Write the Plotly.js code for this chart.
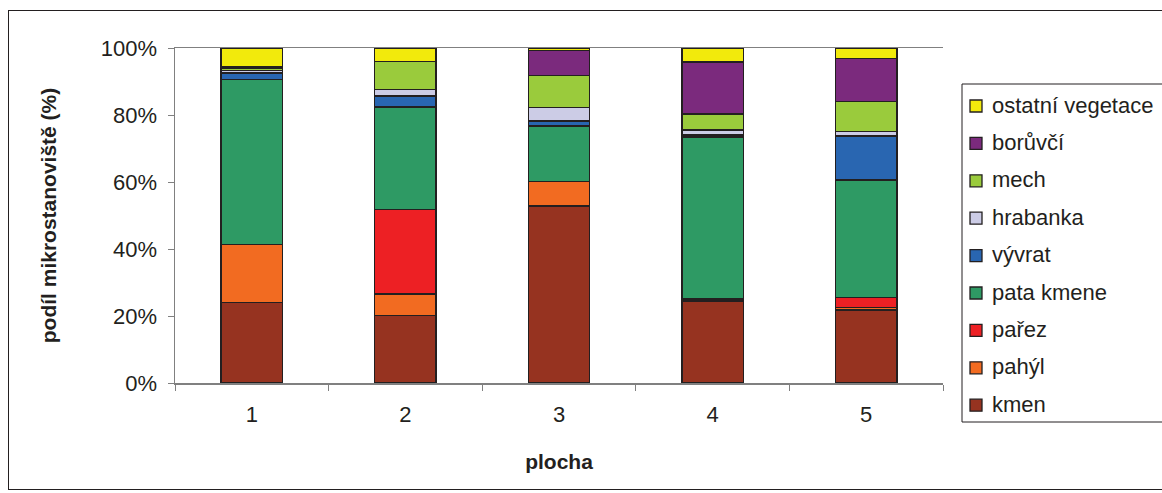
<!DOCTYPE html>
<html>
<head>
<meta charset="utf-8">
<script src="https://cdn.plot.ly/plotly-3.0.1.min.js"></script>
<style>
  html, body { margin: 0; padding: 0; background: #fff; }
  #wrap { position: relative; width: 1162px; height: 493px; }
  #chart { width: 1162px; height: 493px; }
  #frame { position: absolute; left: 8px; top: 10px; width: 1160px; height: 480px;
           border: 1px solid #231f20; pointer-events: none; box-sizing: border-box; }
</style>
</head>
<body>
<div id="wrap">
  <div id="chart"></div>
  <div id="frame"></div>
</div>
<script>
// Plots (x axis categories)
const plochy = ['1', '2', '3', '4', '5'];

// Share of each microhabitat per plot (%), bottom to top of the stack
const kmen       = [24.0, 20.1, 52.8, 24.5, 21.8];
const pahyl      = [17.3,  6.5,  7.3,  0.6,  0.7];
const parez      = [ 0.0, 25.2,  0.0,  0.0,  3.0];
const pataKmene  = [49.4, 30.6, 16.6, 48.3, 35.1];
const vyvrat     = [ 1.8,  3.3,  1.5,  0.6, 13.1];
const hrabanka   = [ 0.7,  2.0,  4.1,  1.5,  1.3];
const mech       = [ 0.8,  8.2,  9.4,  4.8,  9.0];
const boruvci    = [ 0.3,  0.0,  7.5, 15.5, 12.9];
const ostatni    = [ 5.7,  4.1,  0.8,  4.2,  3.1];

const yTicks = [0, 20, 40, 60, 80, 100];
const yTickText = ['0%', '20%', '40%', '60%', '80%', '100%'];

const series = [
  { name: 'kmen',              y: kmen,      color: '#963320' },
  { name: 'pahýl',             y: pahyl,     color: '#f26b21' },
  { name: 'pařez',             y: parez,     color: '#ed2024' },
  { name: 'pata kmene',        y: pataKmene, color: '#2e9a64' },
  { name: 'vývrat',            y: vyvrat,    color: '#2966b1' },
  { name: 'hrabanka',          y: hrabanka,  color: '#cccce6' },
  { name: 'mech',              y: mech,      color: '#9acb3c' },
  { name: 'borůvčí',           y: boruvci,   color: '#7b2a7d' },
  { name: 'ostatní vegetace',  y: ostatni,   color: '#f2ea0c' }
];

const FONT = '"Liberation Sans", Arial, sans-serif';
const INK = '#231f20';

// Figure geometry (pixels)
const W = 1162, H = 493;
const M = { l: 175, r: 219, t: 48, b: 110 };
const plotW = W - M.l - M.r;
const plotH = H - M.t - M.b;
const px2x = px => (px - M.l) / plotW;          // pixel -> paper x
const py2y = py => (H - M.b - py) / plotH;      // pixel -> paper y

const traces = series.map(s => ({
  type: 'bar',
  name: s.name,
  x: plochy,
  y: s.y,
  marker: { color: s.color, line: { color: INK, width: 1.3 } },
  hoverinfo: 'name+y',
  showlegend: false
}));

// Boxed key to the right of the plot, top of the stack listed first
const legendBox = { left: 962, top: 84, right: 1175, bottom: 422 };
const rowFirst = 106, rowStep = 37.4, swatch = 12;
const shapes = [{
  type: 'rect', xref: 'paper', yref: 'paper',
  x0: px2x(legendBox.left), x1: px2x(legendBox.right),
  y0: py2y(legendBox.bottom), y1: py2y(legendBox.top),
  line: { color: INK, width: 1 }, fillcolor: 'rgba(0,0,0,0)', layer: 'above'
}];
const annotations = [];
series.slice().reverse().forEach((s, k) => {
  const cy = rowFirst + k * rowStep;
  shapes.push({
    type: 'rect', xref: 'paper', yref: 'paper',
    x0: px2x(970), x1: px2x(970 + swatch),
    y0: py2y(cy + swatch / 2), y1: py2y(cy - swatch / 2),
    line: { color: INK, width: 1.3 }, fillcolor: s.color, layer: 'above'
  });
  annotations.push({
    xref: 'paper', yref: 'paper',
    x: px2x(990), y: py2y(cy - 1),
    xanchor: 'left', yanchor: 'middle',
    text: s.name, showarrow: false,
    font: { family: FONT, size: 22, color: INK }
  });
});

const layout = {
  width: W,
  height: H,
  margin: M,
  paper_bgcolor: '#ffffff',
  plot_bgcolor: '#ffffff',
  barmode: 'stack',
  bargap: 0.6,
  showlegend: false,
  font: { family: FONT, color: INK, size: 22 },
  xaxis: {
    type: 'category',
    showline: true,
    linecolor: '#808080',
    linewidth: 1.5,
    mirror: true,
    ticks: 'outside',
    tickson: 'boundaries',
    ticklen: 6,
    tickcolor: '#808080',
    ticklabelstandoff: 11,
    tickfont: { family: FONT, size: 22, color: INK },
    showgrid: false,
    zeroline: false,
    title: { text: '<b>plocha</b>', font: { family: FONT, size: 21, color: INK }, standoff: 28 }
  },
  yaxis: {
    range: [0, 100],
    tickvals: yTicks,
    ticktext: yTickText,
    showline: true,
    linecolor: '#808080',
    linewidth: 1.5,
    ticks: 'outside',
    ticklen: 6,
    tickcolor: '#808080',
    ticklabelstandoff: 6,
    tickfont: { family: FONT, size: 22, color: INK },
    showgrid: false,
    zeroline: false,
    title: { text: '<b>podíl mikrostanoviště (%)</b>', font: { family: FONT, size: 21, color: INK }, standoff: 38 }
  },
  shapes: shapes,
  annotations: annotations
};

Plotly.newPlot('chart', traces, layout, { displayModeBar: false, staticPlot: true });
</script>
</body>
</html>
